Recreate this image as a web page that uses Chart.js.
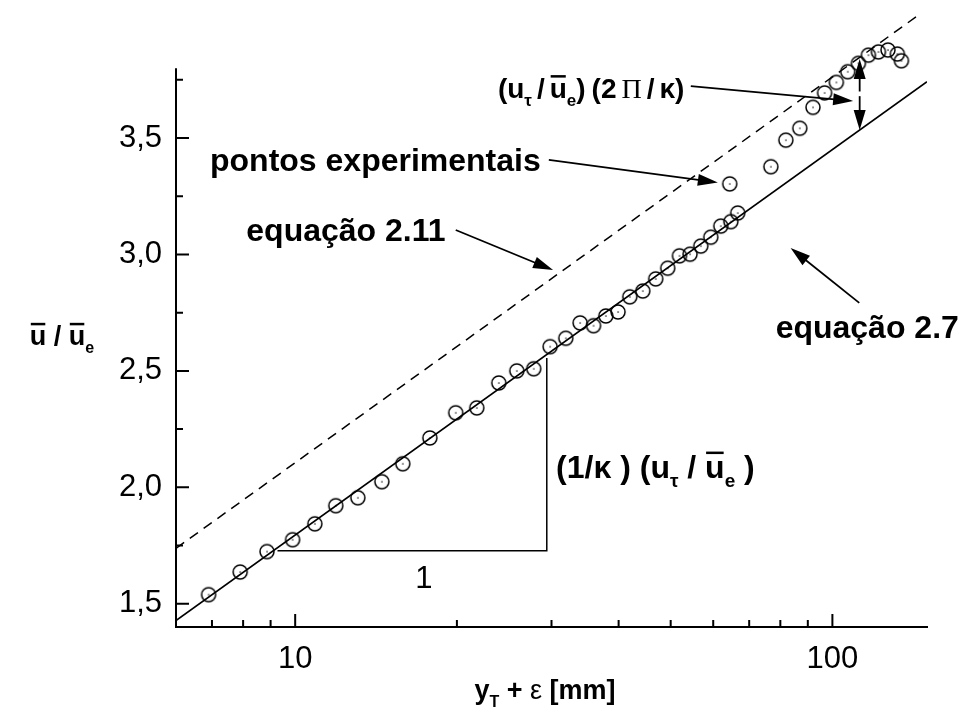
<!DOCTYPE html>
<html>
<head>
<meta charset="utf-8">
<script src="https://cdn.jsdelivr.net/npm/chart.js@4.4.0/dist/chart.umd.min.js"></script>
<style>
  html, body { margin: 0; padding: 0; background: #fff; }
</style>
</head>
<body>
<canvas id="perfil" width="962" height="718"></canvas>
<script>
// perfil de velocidade: pontos medidos e as duas leis logarítmicas
const pontosX = [6.90, 7.90, 8.86, 9.89, 10.88, 11.90, 13.08, 14.50, 15.86, 17.81,
  19.9, 21.78, 23.93, 25.85, 27.8, 29.82, 31.89, 33.91, 35.92, 37.87,
  39.9, 41.96, 44.36, 46.9, 49.37, 51.92, 54.33, 56.88, 59.37, 61.97,
  64.7, 66.65, 64.4, 76.8, 81.9, 86.96, 92.0, 96.7, 101.7, 106.8,
  111.8, 116.7, 121.8, 126.9, 132.1, 134.4];
const pontosY = [1.539, 1.636, 1.724, 1.775, 1.843, 1.921, 1.955, 2.024, 2.101, 2.212,
  2.320, 2.341, 2.448, 2.500, 2.509, 2.604, 2.640, 2.706, 2.694, 2.736,
  2.753, 2.818, 2.843, 2.895, 2.941, 2.994, 3.001, 3.036, 3.074, 3.122,
  3.141, 3.178, 3.303, 3.377, 3.491, 3.542, 3.632, 3.694, 3.739, 3.785,
  3.821, 3.856, 3.870, 3.878, 3.861, 3.832];

const eq27X = [6, 150];
const eq27Y = [1.428, 3.742];
const eq211X = [6, 145];
const eq211Y = [1.738, 4.03];

// triângulo da inclinação
const trianguloX = [9.27, 29.4, 29.4];
const trianguloY = [1.727, 1.727, 2.555];

const xTicks = [10, 100];
const xMinor = [7, 8, 9, 20, 30, 40, 50, 60, 70, 80, 90];
const yTicks = [1.5, 2.0, 2.5, 3.0, 3.5];
const yMinor = [1.75, 2.25, 2.75, 3.25, 3.75];
const yEixo = [1.4, 3.8];   // trecho desenhado do eixo vertical

const pares = (xs, ys) => xs.map((x, i) => ({ x: x, y: ys[i] }));

const SANS = '"Liberation Sans", Arial, sans-serif';

function marcador() {
  const c = document.createElement('canvas');
  c.width = 18; c.height = 18;
  const g = c.getContext('2d');
  g.strokeStyle = '#000';
  g.lineWidth = 1.5;
  g.beginPath();
  g.arc(9, 9, 7, 0, Math.PI * 2);
  g.stroke();
  g.fillStyle = '#000';
  g.fillRect(8.4, 8.4, 1.3, 1.3);
  return c;
}

// texto com subscritos e barras (ū); {sp: n} insere um espaço de n px
function textoRico(ctx, partes, x, y, align, size) {
  const fonte = p => {
    const s = p.sub ? Math.round(size * 0.6) : size;
    return `${p.w || 'bold'} ${s}px ${p.fam || SANS}`;
  };
  const larg = partes.map(p => {
    if (p.sp !== undefined) return p.sp;
    ctx.font = fonte(p);
    return ctx.measureText(p.t).width;
  });
  const total = larg.reduce((a, b) => a + b, 0);
  let cx = align === 'left' ? x : align === 'right' ? x - total : x - total / 2;
  ctx.textAlign = 'left';
  ctx.textBaseline = 'alphabetic';
  partes.forEach((p, i) => {
    if (p.sp === undefined) {
      ctx.font = fonte(p);
      const yy = p.sub ? y + size * 0.3 : y;
      ctx.fillText(p.t, cx, yy);
      if (p.bar) ctx.fillRect(cx + 1, y - size * 0.82, larg[i] - 2, 2.5);
    }
    cx += larg[i];
  });
}

function seta(ctx, x1, y1, x2, y2) {
  const a = Math.atan2(y2 - y1, x2 - x1);
  const L = 20, H = 6;
  ctx.beginPath();
  ctx.moveTo(x1, y1);
  ctx.lineTo(x2 - Math.cos(a) * L * 0.8, y2 - Math.sin(a) * L * 0.8);
  ctx.stroke();
  ctx.beginPath();
  ctx.moveTo(x2, y2);
  ctx.lineTo(x2 - Math.cos(a) * L - Math.sin(a) * H, y2 - Math.sin(a) * L + Math.cos(a) * H);
  ctx.lineTo(x2 - Math.cos(a) * L + Math.sin(a) * H, y2 - Math.sin(a) * L - Math.cos(a) * H);
  ctx.closePath();
  ctx.fill();
}

const anotacoes = {
  id: 'anotacoes',
  afterDraw(chart) {
    const { ctx, chartArea: ca } = chart;
    const sx = chart.scales.x, sy = chart.scales.y;
    const px = v => sx.getPixelForValue(v);
    const py = v => sy.getPixelForValue(v);
    ctx.save();
    ctx.strokeStyle = '#000';
    ctx.fillStyle = '#000';

    // eixo vertical só até 3,8
    ctx.lineWidth = 2;
    ctx.beginPath();
    ctx.moveTo(ca.left, py(yEixo[0]));
    ctx.lineTo(ca.left, py(yEixo[1]));
    ctx.stroke();

    // marcas dos eixos, para dentro
    ctx.beginPath();
    xTicks.forEach(v => { ctx.moveTo(px(v), ca.bottom); ctx.lineTo(px(v), ca.bottom - 13); });
    xMinor.forEach(v => { ctx.moveTo(px(v), ca.bottom); ctx.lineTo(px(v), ca.bottom - 7); });
    yTicks.forEach(v => { ctx.moveTo(ca.left, py(v)); ctx.lineTo(ca.left + 13, py(v)); });
    yMinor.forEach(v => { ctx.moveTo(ca.left, py(v)); ctx.lineTo(ca.left + 7, py(v)); });
    ctx.stroke();

    const T = 32;
    ctx.lineWidth = 1.8;

    // (uτ / ūe) (2 Π / κ)
    textoRico(ctx, [
      { t: '(u' }, { t: 'τ', sub: true }, { sp: 5 }, { t: '/' }, { sp: 5 }, { t: 'u', bar: true }, { t: 'e', sub: true },
      { t: ')' }, { sp: 6 }, { t: '(2' }, { sp: 5 }, { t: 'Π', w: 'normal', fam: '"Liberation Serif", serif' },
      { sp: 5 }, { t: '/' }, { sp: 5 }, { t: 'κ)' }
    ], px(23.84), py(3.719) + 11, 'left', 28);
    seta(ctx, px(54.5), py(3.723), px(109.3), py(3.659));

    // diferença entre as duas retas
    const xa = px(112.4);
    seta(ctx, xa, py(3.70), xa, py(3.84));
    seta(ctx, xa, py(3.68), xa, py(3.535));

    textoRico(ctx, [{ t: 'pontos experimentais' }], px(28.65), py(3.406) + 11, 'right', T);
    seta(ctx, px(29.66), py(3.406), px(61.2), py(3.309));

    textoRico(ctx, [{ t: 'equação 2.11' }], px(19.05), py(3.105) + 11, 'right', T);
    seta(ctx, px(19.9), py(3.105), px(30.2), py(2.933));

    textoRico(ctx, [{ t: 'equação 2.7' }], px(78.4), py(2.689) + 11, 'left', T);
    seta(ctx, px(112.2), py(2.792), px(83.6), py(3.028));

    textoRico(ctx, [
      { t: '(1/κ ) (u' }, { t: 'τ', sub: true }, { t: ' / ' }, { t: 'u', bar: true }, { t: 'e', sub: true }, { t: ' )' }
    ], px(30.6), py(2.088) + 11, 'left', T);

    textoRico(ctx, [{ t: '1', w: 'normal' }], px(17.36), py(1.616) + 11, 'center', 31);

    // títulos dos eixos
    textoRico(ctx, [{ t: 'u', bar: true }, { t: ' / ' }, { t: 'u', bar: true }, { t: 'e', sub: true }],
      62, py(2.65) + 9, 'center', 27);
    textoRico(ctx, [{ t: 'y' }, { t: 'T', sub: true }, { t: ' + ' }, { t: 'ε', w: 'normal' }, { t: ' [mm]' }],
      545, 699, 'center', 27);

    ctx.restore();
  }
};

new Chart(document.getElementById('perfil'), {
  type: 'scatter',
  data: {
    datasets: [
      {
        label: 'equação 2.11',
        data: pares(eq211X, eq211Y),
        showLine: true,
        borderColor: '#000',
        borderWidth: 1.5,
        borderDash: [10, 7],
        pointRadius: 0
      },
      {
        label: 'equação 2.7',
        data: pares(eq27X, eq27Y),
        showLine: true,
        borderColor: '#000',
        borderWidth: 1.6,
        pointRadius: 0
      },
      {
        label: 'inclinação',
        data: pares(trianguloX, trianguloY),
        showLine: true,
        borderColor: '#000',
        borderWidth: 1.5,
        pointRadius: 0
      },
      {
        label: 'pontos experimentais',
        data: pares(pontosX, pontosY),
        pointStyle: marcador(),
        pointRadius: 8
      }
    ]
  },
  options: {
    responsive: false,
    animation: false,
    devicePixelRatio: 1,
    layout: { padding: { left: 0, top: 10, right: 35, bottom: 0 } },
    plugins: { legend: { display: false }, tooltip: { enabled: false } },
    scales: {
      x: {
        type: 'logarithmic',
        min: 6,
        max: 150,
        afterBuildTicks: s => { s.ticks = xTicks.map(v => ({ value: v })); },
        afterFit: s => { s.height = 91; s.paddingLeft = 0; s.paddingRight = 0; },
        grid: { display: false, drawTicks: false },
        border: { display: true, color: '#000', width: 2 },
        ticks: {
          color: '#000',
          padding: 14,
          maxRotation: 0,
          font: { family: SANS, size: 31 },
          callback: v => String(v)
        }
      },
      y: {
        min: 1.4,
        max: 4.05,
        afterBuildTicks: s => { s.ticks = yTicks.map(v => ({ value: v })); },
        afterFit: s => { s.width = 176; s.paddingTop = 0; s.paddingBottom = 0; },
        grid: { display: false, drawTicks: false },
        border: { display: false },
        ticks: {
          color: '#000',
          padding: 14,
          font: { family: SANS, size: 31 },
          callback: v => v.toFixed(1).replace('.', ',')
        }
      }
    }
  },
  plugins: [anotacoes]
});
</script>
</body>
</html>
